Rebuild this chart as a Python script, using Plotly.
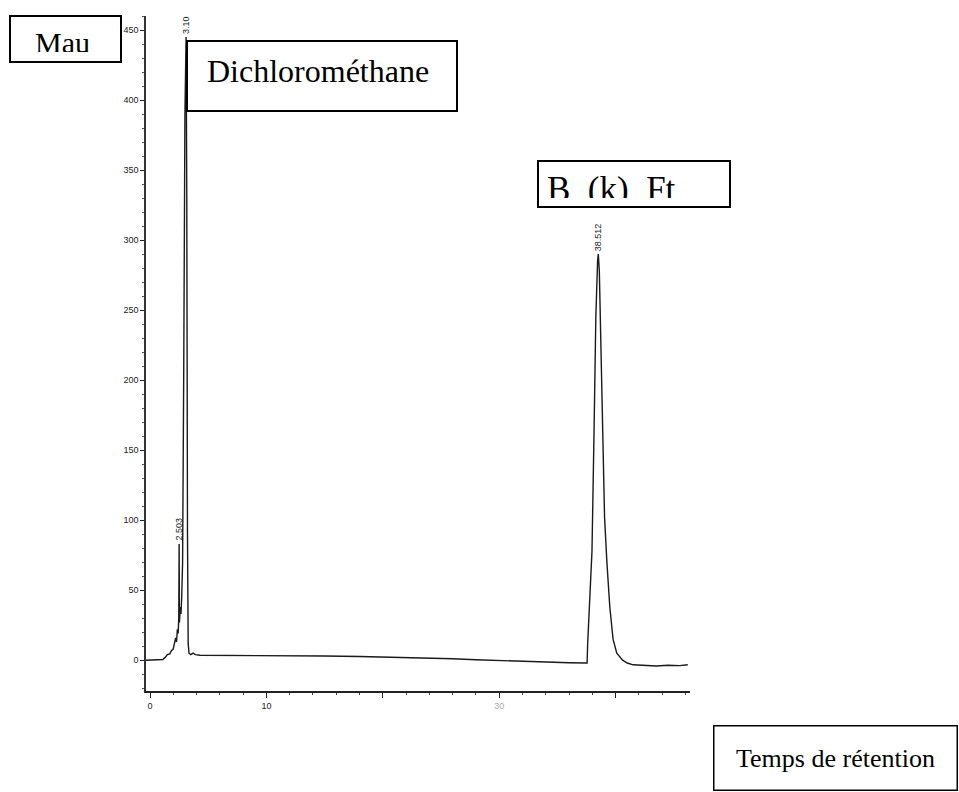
import plotly.graph_objects as go

# Chromatogram trace: retention time (min) and detector response (mAU)
time_min = [
    -0.34, 0.9, 1.1, 1.3, 1.5, 1.7, 1.85, 2.0, 2.1, 2.2, 2.28, 2.35, 2.42, 2.47,
    2.503, 2.53, 2.6, 2.66, 2.72, 2.8, 2.9, 3.0, 3.10, 3.16, 3.22, 3.28, 3.35,
    3.5, 3.7, 3.9, 4.3, 6, 9, 12, 15, 18, 20, 22, 24, 26, 28, 30, 32, 34, 36,
    37.5, 37.55, 37.6, 37.8, 37.97, 38.15, 38.3, 38.45, 38.512, 38.6, 38.75,
    38.9, 39.05, 39.25, 39.5, 39.78, 40.1, 40.6, 41.0, 41.5, 42.5, 43.5, 44.5,
    45.5, 46.2,
]
response_mau = [
    0, 0, 0.5, 2, 4, 4.5, 7, 8, 12, 16, 13, 22, 19, 30,
    83, 27, 38, 33, 44, 70, 210, 390, 445, 330, 90, 12, 5,
    4, 5, 4, 3.5, 3.5, 3.4, 3.2, 3.0, 2.6, 2.3, 2.0, 1.6, 1.0, 0.3, -0.3, -0.9, -1.4, -1.8,
    -2.0, -2.0, 12, 45, 78, 165, 245, 285, 290, 278, 215,
    145, 102, 70, 38, 15, 5, 0, -2, -3.3, -3.8, -4.2, -3.6,
    -3.9, -3.3,
]

# Integrated peaks (retention times printed above each apex)
peak_times = [2.503, 3.10, 38.512]
peak_labels = ["2.503", "3.10", "38.512"]

# Axis ticks
y_ticks = [0, 50, 100, 150, 200, 250, 300, 350, 400, 450]
x_ticks = [0, 10, 20, 30, 40]
x_tick_text = ["0", "10", "", "<span style='color:#aaa'>30</span>", ""]

# Plot-area geometry (pixels)
L, T, W, H = 146, 16, 544, 675
FIG_W, FIG_H = 959, 792


def px(x):
    return (x - L) / W


def py(y):
    return 1 - (y - T) / H


fig = go.Figure()
fig.add_trace(go.Scatter(
    x=time_min, y=response_mau, mode="lines",
    line=dict(color="#1a1a1a", width=1.4),
    hoverinfo="skip", showlegend=False,
))

annotations = []
# Retention-time labels, rotated, sitting on each apex
for t, lab in zip(peak_times, peak_labels):
    h = response_mau[time_min.index(t)]
    annotations.append(dict(
        x=t, y=h, xref="x", yref="y", text=lab, showarrow=False,
        textangle=-90, xanchor="center", yanchor="bottom", yshift=1,
        font=dict(family="Liberation Sans", size=9, color="#222"),
    ))

serif = "Liberation Serif"


def text_box(text, x0, y0, x1, y1, size, bw, pad, valign="top", align="left"):
    inner_w = (x1 - x0) - 2 * (bw + pad)
    inner_h = (y1 - y0) - 2 * (bw + pad)
    return dict(
        x=px(x0), y=py(y0), xref="paper", yref="paper",
        xanchor="left", yanchor="top", showarrow=False,
        text=text, width=inner_w, height=inner_h,
        align=align, valign=valign,
        bgcolor="white", bordercolor="black", borderwidth=bw, borderpad=pad,
        font=dict(family=serif, size=size, color="black"),
    )


annotations.append(text_box("\u00a0\u00a0Mau", 9, 15, 122, 63, 30, 2, 9))
annotations.append(text_box("\u00a0Dichlorométhane", 186, 40, 458, 112, 32, 2, 11))
annotations.append(text_box("B\u00a0\u00a0(k)\u00a0\u00a0Ft", 537, 160, 731, 208, 35, 2, 8))
annotations.append(text_box("\u00a0\u00a0\u00a0Temps de rétention", 713, 725, 958, 791, 26, 1.5, 2,
                            valign="middle"))

fig.update_layout(
    width=FIG_W, height=FIG_H,
    margin=dict(l=L, r=FIG_W - L - W, t=T, b=FIG_H - T - H, autoexpand=False),
    paper_bgcolor="white", plot_bgcolor="white",
    annotations=annotations,
    xaxis=dict(
        range=[-0.344, 46.39], showgrid=False, zeroline=False,
        showline=True, linecolor="#222", linewidth=1.5,
        ticks="outside", ticklen=5, tickcolor="#222", tickwidth=1.2,
        tickvals=x_ticks, ticktext=x_tick_text,
        tickfont=dict(family="Liberation Sans", size=9, color="#222"),
        minor=dict(dtick=2, ticks="outside", ticklen=2, tickcolor="#444"),
    ),
    yaxis=dict(
        range=[-22, 460], showgrid=False, zeroline=False,
        showline=True, linecolor="#333", linewidth=1.5,
        ticks="outside", ticklen=4, tickcolor="#222", tickwidth=1.2,
        tickvals=y_ticks,
        tickfont=dict(family="Liberation Sans", size=9, color="#222"),
        minor=dict(dtick=10, ticks="outside", ticklen=2, tickcolor="#555"),
    ),
)

fig.write_html("out.html")
